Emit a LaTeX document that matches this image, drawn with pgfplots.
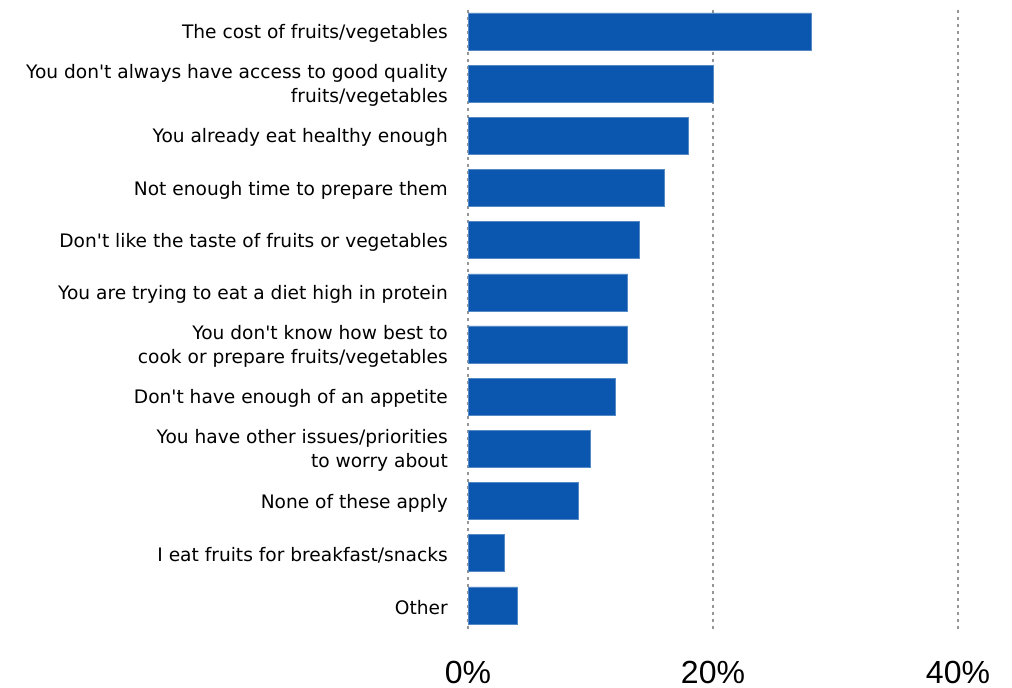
\documentclass[border=0pt]{standalone}
\usepackage{pgfplots}
\pgfplotsset{compat=1.18}
\usepackage{fontspec}
\setmainfont{Liberation Sans}
\newfontfamily\lab{DejaVu Sans}
\definecolor{barblue}{RGB}{11,86,174}
\definecolor{gridgray}{RGB}{150,150,150}
\begin{document}
\begin{tikzpicture}[x=1pt,y=1pt]
\useasboundingbox (0,0) rectangle (1012,688);
\begin{axis}[
  at={(468pt,56pt)}, anchor=south west,
  scale only axis, width=490pt, height=622pt,
  xmin=0, xmax=40, ymin=0.59, ymax=12.51,
  y dir=reverse,
  xbar, bar width=37pt,
  axis line style={draw=none},
  major tick length=0pt,
  xtick={0,20,40},
  xticklabels={0\%,20\%,40\%},
  xmajorgrids,
  grid style={gridgray, line width=1.8pt, dash pattern=on 3pt off 4pt},
  ytick={1,...,12},
  yticklabels={
    {The cost of fruits/vegetables},
    {You don't always have access to good quality\\fruits/vegetables},
    {You already eat healthy enough},
    {Not enough time to prepare them},
    {Don't like the taste of fruits or vegetables},
    {You are trying to eat a diet high in protein},
    {You don't know how best to\\cook or prepare fruits/vegetables},
    {Don't have enough of an appetite},
    {You have other issues/priorities\\to worry about},
    {None of these apply},
    {I eat fruits for breakfast/snacks},
    {Other}},
  yticklabel style={font=\lab\fontsize{18.6}{24}\selectfont, align=right, anchor=east, inner sep=0pt, xshift=-20pt, yshift=-2pt},
  xticklabel style={font=\fontsize{32}{38}\selectfont, anchor=base, inner sep=0pt, yshift=-51pt},
]
\addplot[fill=barblue, draw=barblue!70!white, line width=0.6pt] coordinates {
  (28,1) (20,2) (18,3) (16,4) (14,5) (13,6) (13,7) (12,8) (10,9) (9,10) (3,11) (4,12)
};
\end{axis}
\end{tikzpicture}
\end{document}
